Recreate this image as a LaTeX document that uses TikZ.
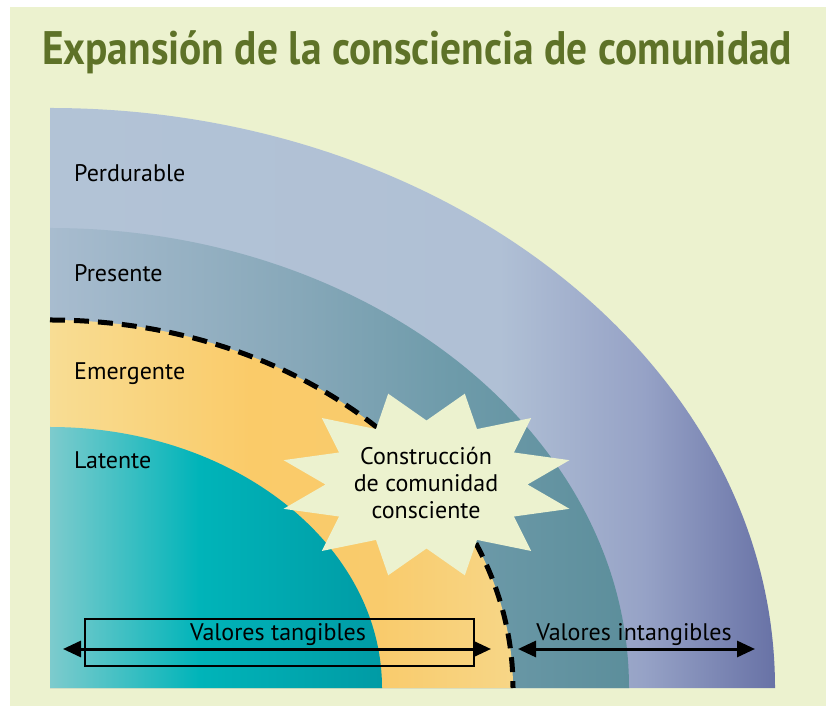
\documentclass[tikz,border=0pt]{standalone}
\usepackage{fontspec}
\setmainfont{PT Sans}
\usetikzlibrary{arrows.meta}
\definecolor{bgc}{RGB}{236,242,207}
\definecolor{titlec}{RGB}{94,114,40}
\pgfdeclarehorizontalshading{perdshade}{100bp}{color(0bp)=(rgb,255:red,178;green,195;blue,214); color(25bp)=(rgb,255:red,178;green,195;blue,214); color(56bp)=(rgb,255:red,176;green,192;blue,213); color(66bp)=(rgb,255:red,150;green,162;blue,198); color(75bp)=(rgb,255:red,104;green,114;blue,166); color(100bp)=(rgb,255:red,104;green,114;blue,166)}
\pgfdeclarehorizontalshading{presshade}{100bp}{color(0bp)=(rgb,255:red,168;green,188;blue,207); color(25bp)=(rgb,255:red,168;green,188;blue,207); color(42bp)=(rgb,255:red,135;green,168;blue,185); color(52.6bp)=(rgb,255:red,110;green,155;blue,170); color(65bp)=(rgb,255:red,92;green,142;blue,155); color(100bp)=(rgb,255:red,92;green,142;blue,155)}
\pgfdeclarehorizontalshading{emershade}{100bp}{color(0bp)=(rgb,255:red,248;green,221;blue,148); color(25bp)=(rgb,255:red,248;green,221;blue,148); color(38.8bp)=(rgb,255:red,250;green,203;blue,105); color(47.8bp)=(rgb,255:red,249;green,203;blue,108); color(56.9bp)=(rgb,255:red,247;green,214;blue,135); color(100bp)=(rgb,255:red,247;green,214;blue,135)}
\pgfdeclarehorizontalshading{latshade}{100bp}{color(0bp)=(rgb,255:red,125;green,203;blue,205); color(25bp)=(rgb,255:red,125;green,203;blue,205); color(35.3bp)=(rgb,255:red,0;green,180;blue,185); color(47.8bp)=(rgb,255:red,0;green,155;blue,165); color(100bp)=(rgb,255:red,0;green,155;blue,165)}
\tikzset{
  lbl/.style={font=\fontsize{24}{27}\selectfont, text=black, inner sep=0pt},
  arr/.style={line width=3pt, {Triangle[length=18pt,width=16pt]}-{Triangle[length=18pt,width=16pt]}},
  dashline/.style={line width=5pt, dash pattern=on 15pt off 9pt}
}
\begin{document}
\begin{tikzpicture}[x=1pt,y=1pt]
\useasboundingbox (0,0) rectangle (826,706);
\fill[white] (0,0) rectangle (826,706);
\fill[bgc] (10,0) rectangle (826,699);
% rings
\begin{scope}
\clip (50,18) -- (775,18) arc[start angle=0,end angle=90,x radius=725,y radius=580] -- cycle;
\shade[shading=perdshade] (50,18) rectangle (775,598);
\end{scope}
\begin{scope}
\clip (50,18) -- (629,18) arc[start angle=0,end angle=90,x radius=579,y radius=460] -- cycle;
\shade[shading=presshade] (50,18) rectangle (775,478);
\end{scope}
\begin{scope}
\clip (50,18) -- (513,18) arc[start angle=0,end angle=90,x radius=463,y radius=368] -- cycle;
\shade[shading=emershade] (50,18) rectangle (775,386);
\end{scope}
\begin{scope}
\clip (50,18) -- (382,18) arc[start angle=0,end angle=90,x radius=332,y radius=261] -- cycle;
\shade[shading=latshade] (50,18) rectangle (775,279);
\end{scope}
% dashed boundary
\draw[dashline] (50,386) arc[start angle=90,end angle=0,x radius=463,y radius=368];
% starburst
\fill[bgc, shift={(426.5,221.5)}] (101,0) -- (142.96,24.33) -- (87.47,32) -- (104.65,66.47) -- (50.5,55.43) -- (38.30,90.80) -- (0,64) -- (-38.30,90.80) -- (-50.5,55.43) -- (-104.65,66.47) -- (-87.47,32) -- (-142.96,24.33) -- (-101,0) -- (-142.96,-24.33) -- (-87.47,-32) -- (-104.65,-66.47) -- (-50.5,-55.43) -- (-38.30,-90.80) -- (0,-64) -- (38.30,-90.80) -- (50.5,-55.43) -- (104.65,-66.47) -- (87.47,-32) -- (142.96,-24.33) -- cycle;
\node[lbl, align=center, anchor=base] (star) at (426,187) {Construcción\\de comunidad\\consciente};
% title
\node[anchor=base west, inner sep=0pt, text=titlec] (title) at (42,641) {\resizebox{750pt}{\height}{\fontsize{47}{50}\selectfont\bfseries Expansión de la consciencia de comunidad}};
% labels
\node[lbl, anchor=base west] (perd) at (74,524) {Perdurable};
\node[lbl, anchor=base west] (pres) at (74,424) {Presente};
\node[lbl, anchor=base west] (emer) at (74,326) {Emergente};
\node[lbl, anchor=base west] (lat) at (74,237) {Latente};
% values
\node[draw, line width=2.7pt, minimum width=389pt, minimum height=47pt, inner sep=0pt] (tbox) at (279.5,63.5) {};
\node[lbl, anchor=base] (tang) at (278,66) {Valores tangibles};
\node[lbl, anchor=base] (intang) at (634,66) {Valores intangibles};
\coordinate (tl) at (63,57);
\coordinate (tr) at (491,57);
\coordinate (il) at (518,57);
\coordinate (ir) at (755,57);
\draw[arr] (tl) -- (tr);
\draw[arr] (il) -- (ir);
\end{tikzpicture}
\end{document}
